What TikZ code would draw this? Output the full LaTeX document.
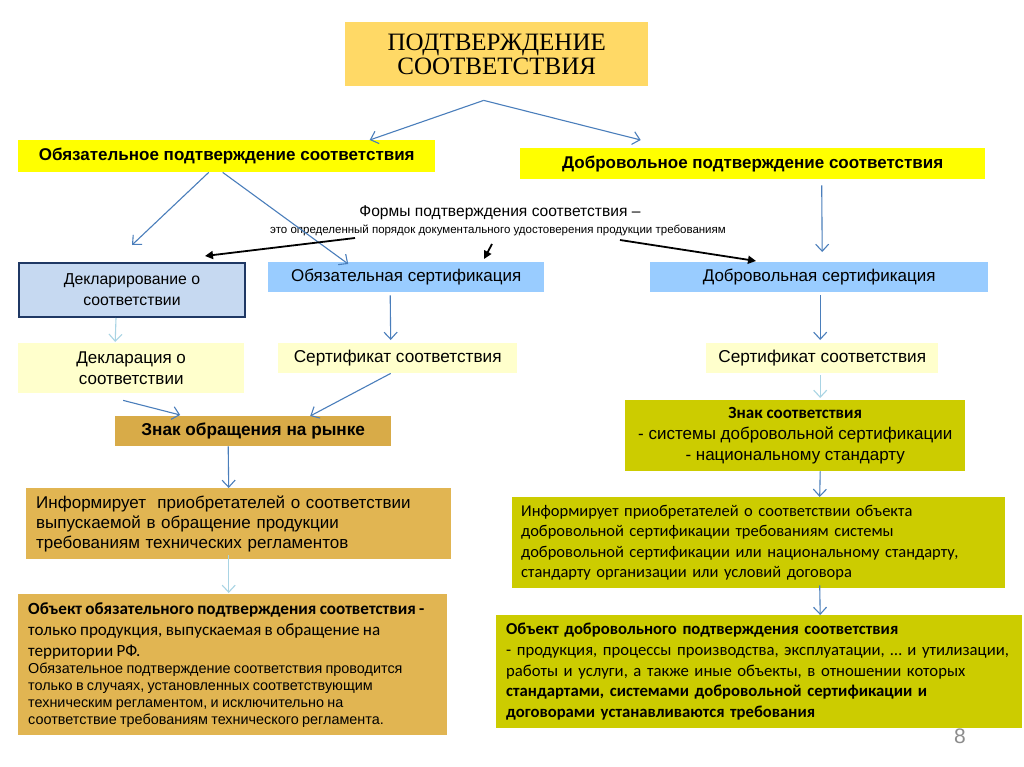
\documentclass[tikz,border=0pt]{standalone}
\usepackage{fontspec}
\setmainfont{Liberation Sans}
\newfontfamily\calfont{Carlito}
\newfontfamily\titlefont{Liberation Serif}
\usepackage{tikz}
\usetikzlibrary{arrows.meta, positioning}
\usepackage{xcolor}

\definecolor{titlegold}{HTML}{FFD966}
\definecolor{brightyellow}{HTML}{FFFF00}
\definecolor{declblue}{HTML}{C6D9F1}
\definecolor{declborder}{HTML}{1F3864}
\definecolor{certblue}{HTML}{99CCFF}
\definecolor{paleyellow}{HTML}{FFFFCC}
\definecolor{goldA}{HTML}{D8AB48}
\definecolor{goldB}{HTML}{E1B552}
\definecolor{olive}{HTML}{CCCC00}
\definecolor{arrowblue}{HTML}{4A7EBB}
\definecolor{arrowlight}{HTML}{A9D4E4}

\begin{document}
\begin{tikzpicture}[
  x=1pt, y=-1pt,
  block/.style={
    rectangle,
    anchor=north west,
    inner sep=0pt,
    align=center,
    text=black
  },
  textblock/.style={
    block,
    align=left,
    inner xsep=10pt
  },
  arrow/.style={-{Straight Barb[length=7pt, width=13pt]}, draw=arrowblue, line width=1.1pt},
  lightarrow/.style={arrow, draw=arrowlight},
  blackarrow/.style={-{Triangle[length=8pt, width=8pt]}, line width=1.8pt}
]
  \useasboundingbox[fill=white] (0,0) rectangle (1024,767);

  % Nodes
  \node (title) [block, fill=titlegold, minimum width=303pt, minimum height=64pt,
    font=\titlefont\fontsize{25}{24}\selectfont] at (345,22)
    {ПОДТВЕРЖДЕНИЕ\\СООТВЕТСТВИЯ};

  \node (mand) [block, fill=brightyellow, minimum width=417pt, minimum height=32pt,
    font=\bfseries\fontsize{17}{19}\selectfont] at (18,140)
    {Обязательное подтверждение соответствия};
  \node (vol) [block, fill=brightyellow, minimum width=465pt, minimum height=31pt,
    font=\bfseries\fontsize{17}{19}\selectfont] at (520,148)
    {Добровольное подтверждение соответствия};

  \node (forms) [anchor=center, inner sep=0pt, font=\fontsize{15.6}{17}\selectfont]
    at (500,213) {Формы подтверждения соответствия –};
  \node (formsdef) [anchor=center, inner sep=0pt, font=\fontsize{11.5}{13}\selectfont]
    at (498,230) {это определенный порядок документального удостоверения продукции требованиям};

  \node (decl) [block, fill=declblue, draw=declborder, line width=2pt,
    minimum width=226pt, minimum height=54pt, font=\fontsize{15.8}{21}\selectfont] at (18,262)
    {Декларирование о\\соответствии};
  \node (oblcert) [block, fill=certblue, minimum width=276pt, minimum height=30pt,
    font=\fontsize{17}{19}\selectfont] at (268,262) {Обязательная сертификация};
  \node (volcert) [block, fill=certblue, minimum width=338pt, minimum height=30pt,
    font=\fontsize{17}{19}\selectfont] at (650,262) {Добровольная сертификация};

  \node (declar) [block, fill=paleyellow, minimum width=226pt, minimum height=50pt,
    font=\fontsize{17}{21}\selectfont] at (18,343) {Декларация о\\соответствии};
  \node (cert1) [block, fill=paleyellow, minimum width=239pt, minimum height=30pt,
    font=\fontsize{17.2}{19}\selectfont] at (278,343) {Сертификат соответствия};
  \node (cert2) [block, fill=paleyellow, minimum width=232pt, minimum height=30pt,
    font=\fontsize{17.2}{19}\selectfont] at (706,343) {Сертификат соответствия};

  \node (market) [block, fill=goldA, minimum width=276pt, minimum height=30pt,
    font=\bfseries\fontsize{17.2}{19}\selectfont] at (115,416) {Знак обращения на рынке};
  \node (znak) [block, fill=olive, minimum width=340pt, minimum height=71pt,
    font=\fontsize{17}{21}\selectfont] at (625,400)
    {{\calfont\bfseries Знак соответствия}\\- системы добровольной сертификации\\- национальному стандарту};

  \node (info1) [textblock, fill=goldB, text width=405pt, minimum height=71pt,
    font=\fontsize{17}{20}\selectfont] at (26,488)
    {Информирует \ приобретателей о соответствии\\выпускаемой в обращение продукции\\требованиям технических регламентов};
  \node (info2) [textblock, inner xsep=9pt, fill=olive, text width=475pt, minimum height=91pt,
    font=\calfont\fontsize{16.5}{20.5}\selectfont] at (512,497)
    {Информирует приобретателей о соответствии объекта\\добровольной сертификации требованиям системы\\добровольной сертификации или национальному стандарту,\\стандарту организации или условий договора};

  \node (obj1) [textblock, fill=goldB, text width=409pt, minimum height=141pt] at (18,594)
    {{\calfont\fontsize{17.1}{21}\selectfont\textbf{Объект обязательного подтверждения соответствия -}\\
      только продукция, выпускаемая в обращение на\\территории РФ.\par}
     {\fontsize{14.4}{17}\selectfont Обязательное подтверждение соответствия проводится\\
      только в случаях, установленных соответствующим\\техническим регламентом, и исключительно на\\
      соответствие требованиям технического регламента.\par}};
  \node (obj2) [textblock, fill=olive, text width=506pt, minimum height=113pt,
    font=\calfont\fontsize{16.7}{20.7}\selectfont] at (496,615)
    {\textbf{Объект добровольного подтверждения соответствия}\\
     - продукция, процессы производства, эксплуатации, … и утилизации,\\
     работы и услуги, а также иные объекты, в отношении которых\\
     \textbf{стандартами, системами добровольной сертификации и}\\
     \textbf{договорами устанавливаются требования}};

  \node (page) [anchor=center, inner sep=0pt, text=black!45, font=\fontsize{21}{22}\selectfont]
    at (960,736) {8};

  % free ends of the black arrows
  \coordinate (formsL) at (355,238);
  \coordinate (endL) at (205,256);
  \coordinate (formsM) at (492,244);
  \coordinate (endM) at (484,259);
  \coordinate (formsR) at (620,240);
  \coordinate (endR) at (756,261);

  % Arrows
  \draw [arrow] ([xshift=-13pt, yshift=-14pt]title.south) -- ([xshift=143pt]mand.north);
  \draw [arrow] ([xshift=-13pt, yshift=-14pt]title.south) -- ([xshift=-112pt, yshift=8pt]vol.north);
  \draw [arrow] ([xshift=-18pt]mand.south) -- ([yshift=17pt]decl.north);
  \draw [arrow] ([xshift=-4pt]mand.south) -- ([xshift=-58pt, yshift=-2pt]oblcert.north);
  \draw [arrow] ([xshift=69pt, yshift=-6pt]vol.south) -- ([xshift=3pt, yshift=10pt]volcert.north);

  \draw [blackarrow] (formsL) -- (endL);
  \draw [blackarrow] (formsM) -- (endM);
  \draw [blackarrow] (formsR) -- (endR);

  \draw [lightarrow] ([xshift=-16pt]decl.south) -- ([xshift=-16pt, yshift=1pt]declar.north);
  \draw [arrow] ([xshift=-16pt, yshift=-3pt]oblcert.south) -- ([xshift=-7pt, yshift=3pt]cert1.north);
  \draw [arrow] ([xshift=1pt, yshift=-3pt]volcert.south) -- ([xshift=-2pt, yshift=3pt]cert2.north);

  \draw [arrow] ([xshift=-8pt, yshift=-7pt]declar.south) -- ([xshift=-73pt, yshift=1pt]market.north);
  \draw [arrow] ([xshift=-7pt]cert1.south) -- ([xshift=57pt]market.north);
  \draw [lightarrow] ([xshift=-2pt, yshift=-2pt]cert2.south) -- ([xshift=25pt, yshift=2pt]znak.north);

  \draw [arrow] ([xshift=-25pt]market.south) -- ([xshift=-10pt]info1.north);
  \draw [arrow] ([xshift=25pt]znak.south) -- ([xshift=61pt]info2.north);
  \draw [lightarrow] ([xshift=-10pt, yshift=4pt]info1.south) -- ([xshift=-4pt, yshift=1pt]obj1.north);
  \draw [arrow] ([xshift=61pt, yshift=3pt]info2.south) -- ([xshift=61pt]obj2.north);

\end{tikzpicture}
\end{document}
